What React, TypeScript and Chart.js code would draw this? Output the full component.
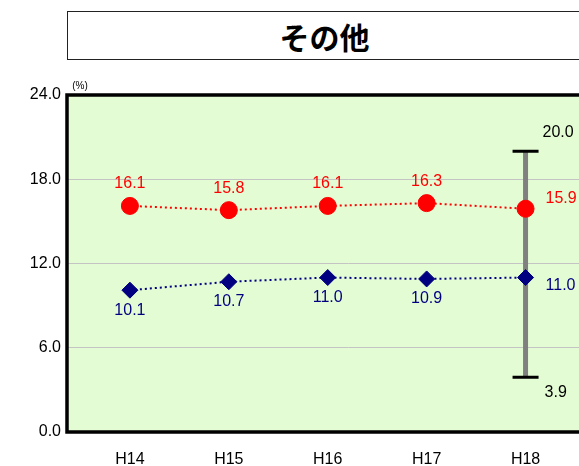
import React, { useEffect, useRef } from 'react';
import { Chart, registerables } from 'chart.js';

Chart.register(...registerables);

const title = 'その他';
const unitLabel = '(%)';
const categories = ['H14', 'H15', 'H16', 'H17', 'H18'];
const seriesRed = [16.1, 15.8, 16.1, 16.3, 15.9];
const seriesNavy = [10.1, 10.7, 11.0, 10.9, 11.0];
const rangeHigh = 20.0;
const rangeLow = 3.9;
const yTickValues = [0, 6, 12, 18, 24];

const FONT = "'Liberation Sans', Arial, sans-serif";

const bgPlugin = {
  id: 'bgPlugin',
  beforeDraw(chart: any) {
    const { ctx, chartArea } = chart;
    ctx.save();
    ctx.fillStyle = '#E4FCD4';
    ctx.fillRect(chartArea.left, chartArea.top, chartArea.right - chartArea.left, chartArea.bottom - chartArea.top);
    ctx.restore();
  },
};

const rangePlugin = {
  id: 'rangePlugin',
  beforeDatasetsDraw(chart: any) {
    const { ctx, scales } = chart;
    const idx = categories.length - 1;
    const x = scales.x.getPixelForValue(idx);
    const yTop = scales.y.getPixelForValue(rangeHigh);
    const yBot = scales.y.getPixelForValue(rangeLow);
    ctx.save();
    ctx.strokeStyle = '#808080';
    ctx.lineWidth = 5;
    ctx.beginPath();
    ctx.moveTo(x, yTop);
    ctx.lineTo(x, yBot);
    ctx.stroke();
    ctx.strokeStyle = '#000';
    ctx.lineWidth = 3;
    ctx.beginPath();
    ctx.moveTo(x - 13, yTop);
    ctx.lineTo(x + 13, yTop);
    ctx.moveTo(x - 13, yBot);
    ctx.lineTo(x + 13, yBot);
    ctx.stroke();
    ctx.fillStyle = '#000';
    ctx.font = `16px ${FONT}`;
    ctx.textAlign = 'left';
    ctx.textBaseline = 'middle';
    ctx.fillText(rangeHigh.toFixed(1), x + 17, yTop - 19);
    ctx.fillText(rangeLow.toFixed(1), x + 19, yBot + 15);
    ctx.restore();
  },
};

const labelPlugin = {
  id: 'labelPlugin',
  afterDatasetsDraw(chart: any) {
    const { ctx } = chart;
    ctx.save();
    ctx.font = `16px ${FONT}`;
    ctx.textBaseline = 'middle';
    chart.data.datasets.forEach((ds: any, di: number) => {
      const meta = chart.getDatasetMeta(di);
      meta.data.forEach((pt: any, i: number) => {
        const v = ds.data[i].y as number;
        const txt = v.toFixed(1);
        ctx.fillStyle = ds.labelColor;
        const last = i === ds.data.length - 1;
        if (last) {
          ctx.textAlign = 'left';
          ctx.fillText(txt, pt.x + 20, pt.y + (di === 0 ? -10 : 8));
        } else {
          ctx.textAlign = 'center';
          ctx.fillText(txt, pt.x, pt.y + (di === 0 ? -22 : 20));
        }
      });
    });
    ctx.restore();
  },
};

const framePlugin = {
  id: 'framePlugin',
  afterDraw(chart: any) {
    const { ctx, chartArea } = chart;
    ctx.save();
    ctx.strokeStyle = '#000';
    ctx.lineWidth = 3.5;
    ctx.beginPath();
    ctx.moveTo(chartArea.right + 5, chartArea.top);
    ctx.lineTo(chartArea.left, chartArea.top);
    ctx.lineTo(chartArea.left, chartArea.bottom);
    ctx.lineTo(chartArea.right + 5, chartArea.bottom);
    ctx.stroke();
    ctx.fillStyle = '#000';
    ctx.font = `10px ${FONT}`;
    ctx.textAlign = 'center';
    ctx.textBaseline = 'middle';
    ctx.fillText(unitLabel, chartArea.left + 13, chartArea.top - 9);
    ctx.restore();
  },
};

export default function App() {
  const canvasRef = useRef<HTMLCanvasElement>(null);

  useEffect(() => {
    if (!canvasRef.current) return;
    const chart = new Chart(canvasRef.current, {
      type: 'line',
      data: {
        datasets: [
          {
            data: seriesRed.map((v, i) => ({ x: i, y: v })),
            borderColor: '#FF0000',
            backgroundColor: '#FF0000',
            borderWidth: 2,
            borderDash: [2, 3],
            pointStyle: 'circle',
            pointRadius: 8.5,
            pointBorderWidth: 1,
            pointBackgroundColor: '#FF0000',
            pointBorderColor: '#FF0000',
            labelColor: '#FF0000',
          } as any,
          {
            data: seriesNavy.map((v, i) => ({ x: i, y: v })),
            borderColor: '#000080',
            backgroundColor: '#000080',
            borderWidth: 2,
            borderDash: [2, 3],
            pointStyle: 'rectRot',
            pointRadius: 8,
            pointBorderWidth: 1,
            pointBackgroundColor: '#000080',
            pointBorderColor: '#000080',
            labelColor: '#000080',
          } as any,
        ],
      },
      options: {
        responsive: false,
        animation: false,
        layout: { padding: { top: 95, left: 0, right: 0, bottom: 0 } },
        plugins: {
          legend: { display: false },
          tooltip: { enabled: false },
          title: { display: false },
        },
        scales: {
          x: {
            type: 'linear',
            min: -0.636,
            max: 5.061,
            afterBuildTicks: (s: any) => {
              s.ticks = categories.map((_, i) => ({ value: i }));
            },
            afterFit: (s: any) => {
              s.height = 34;
            },
            grid: { display: false, drawTicks: false },
            border: { display: false },
            ticks: {
              autoSkip: false,
              maxRotation: 0,
              padding: 18,
              color: '#000',
              font: { family: FONT, size: 16 },
              callback: (v: any) => categories[v as number] ?? '',
            },
          },
          y: {
            type: 'linear',
            min: yTickValues[0],
            max: yTickValues[yTickValues.length - 1],
            afterBuildTicks: (s: any) => {
              s.ticks = yTickValues.map((v) => ({ value: v }));
            },
            afterFit: (s: any) => {
              s.width = 67;
            },
            grid: { color: '#C4C4C4', lineWidth: 1, drawTicks: false },
            border: { display: false },
            ticks: {
              padding: 6,
              color: '#000',
              font: { family: FONT, size: 16 },
              callback: (v: any) => Number(v).toFixed(1),
            },
          },
        },
      },
      plugins: [bgPlugin, rangePlugin, labelPlugin, framePlugin],
    });
    return () => chart.destroy();
  }, []);

  return (
    <div style={{ position: 'absolute', left: 0, top: 0, width: 579, height: 466, overflow: 'hidden', background: '#fff' }}>
      <div
        style={{
          position: 'absolute',
          left: 67,
          top: 11,
          width: 515,
          height: 49,
          boxSizing: 'border-box',
          border: '1px solid #222',
          display: 'flex',
          alignItems: 'center',
          justifyContent: 'center',
          fontFamily: "'Noto Sans CJK JP', sans-serif",
          fontWeight: 'bold',
          fontSize: 30,
          color: '#000',
        }}
      >
        {title}
      </div>
      <canvas ref={canvasRef} width={640} height={466} style={{ position: 'absolute', left: 0, top: 0 }} />
    </div>
  );
}
